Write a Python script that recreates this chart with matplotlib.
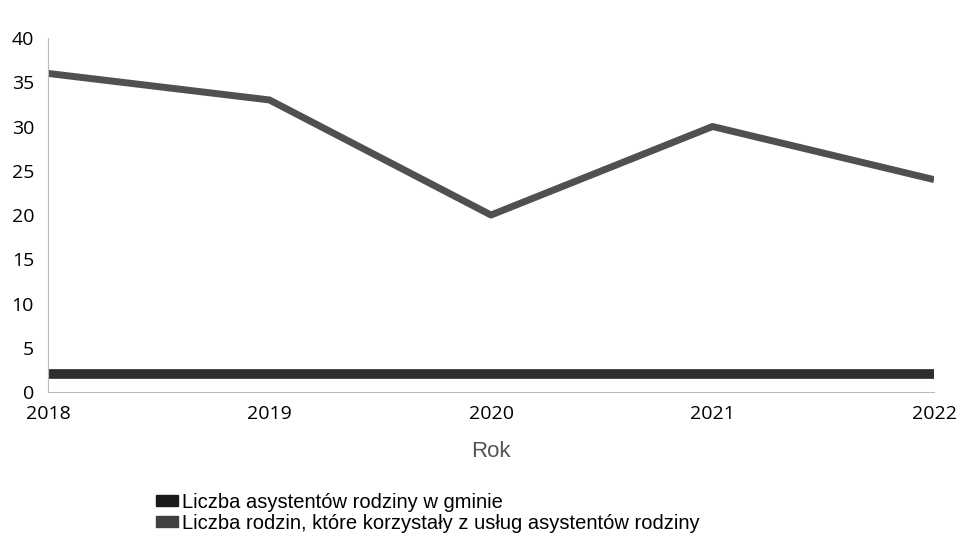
import matplotlib.pyplot as plt

# Data
years = [2018, 2019, 2020, 2021, 2022]
asystenci = [2, 2, 2, 2, 2]
rodziny = [36, 33, 20, 30, 24]

labels = ["Liczba asystentów rodziny w gminie",
          "Liczba rodzin, które korzystały z usług asystentów rodziny"]

fig = plt.figure(figsize=(9.59, 5.43), dpi=100)
ax = fig.add_axes([0.050, 0.278, 0.924, 0.652])

ax.plot(years, asystenci, color="#2e2e2e", linewidth=7, solid_capstyle="butt", label=labels[0])
ax.plot(years, rodziny, color="#505050", linewidth=5, solid_capstyle="butt", label=labels[1])

ax.set_xlim(2018, 2022)
ax.set_ylim(0, 40)
ax.set_xticks(years)
ax.set_xticklabels([str(y) for y in years], fontsize=14, family="Open Sans")
ax.set_yticks(range(0, 41, 5))
ax.set_yticklabels([str(v) for v in range(0, 41, 5)], fontsize=14, family="Open Sans")
ax.tick_params(axis="x", length=0, pad=9)
ax.tick_params(axis="y", length=0, pad=10)

for s in ["top", "right"]:
    ax.spines[s].set_visible(False)
for s in ["left", "bottom"]:
    ax.spines[s].set_color("#bbbbbb")
    ax.spines[s].set_linewidth(0.8)

ax.set_xlabel("Rok", fontsize=16, color="#555555", family="Liberation Sans", labelpad=13)

h1 = plt.Rectangle((0, 0), 1, 1, color="#1a1a1a")
h2 = plt.Rectangle((0, 0), 1, 1, color="#404040")
fig.legend([h1, h2], labels, loc="upper left", bbox_to_anchor=(0.163, 0.093),
           frameon=False, prop={"family": "Liberation Sans", "size": 14.5},
           handlelength=1.1, handleheight=0.5, handletextpad=0.2, labelspacing=0.1,
           borderaxespad=0, borderpad=0)

fig.savefig("out.png", dpi=100)
